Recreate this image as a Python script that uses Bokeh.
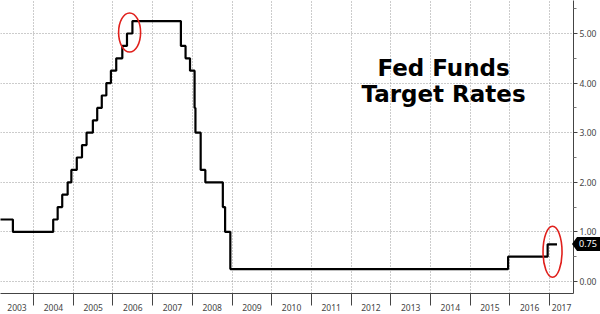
import pandas as pd
from bokeh.plotting import figure
from bokeh.layouts import column
from bokeh.models import FixedTicker, PrintfTickFormatter, Range1d, Label, Div
from bokeh.embed import file_html
from bokeh.resources import INLINE

# Fed funds target rate (upper bound), step changes
change_dates = ["2003-01-01", "2003-06-25", "2004-06-30", "2004-08-10", "2004-09-21",
                "2004-11-10", "2004-12-14", "2005-02-02", "2005-03-22", "2005-05-03",
                "2005-06-30", "2005-08-09", "2005-09-20", "2005-11-01", "2005-12-13",
                "2006-01-31", "2006-03-28", "2006-05-10", "2006-06-29", "2007-09-18",
                "2007-10-31", "2007-12-11", "2008-01-22", "2008-01-30", "2008-03-18",
                "2008-04-30", "2008-10-08", "2008-10-29", "2008-12-16", "2015-12-16",
                "2016-12-14", "2017-03-10"]
rates = [1.25, 1.00, 1.25, 1.50, 1.75, 2.00, 2.25, 2.50, 2.75, 3.00, 3.25, 3.50, 3.75,
         4.00, 4.25, 4.50, 4.75, 5.00, 5.25, 4.75, 4.50, 4.25, 3.50, 3.00, 2.25, 2.00,
         1.50, 1.00, 0.25, 0.50, 0.75, 0.75]

year_labels = ["2003", "2004", "2005", "2006", "2007", "2008", "2009", "2010",
               "2011", "2012", "2013", "2014", "2015", "2016", "2017"]
y_ticks = [0, 1, 2, 3, 4, 5]
y_minor = [0.5, 1.5, 2.5, 3.5, 4.5, 5.5]
last_value = 0.75
title_lines = ["Fed Funds", "Target Rates"]
highlight_dates = ["2006-06-03", "2017-01-28"]
highlight_values = [5.02, 0.60]

def ms(d):
    return pd.Timestamp(d).value / 1e6

x_start = ms("2003-03-03")
x_end = ms("2017-08-09")
y_start, y_end = -0.242, 5.665
W, H = 600, 314
BORDER_RIGHT, BORDER_BOTTOM = 27, 21

xs = [pd.Timestamp(d) for d in change_dates]

p = figure(width=W, height=H, x_axis_type="datetime", y_axis_location="right",
           output_backend="svg", toolbar_location=None,
           x_range=Range1d(x_start, x_end), y_range=Range1d(y_start, y_end),
           min_border_left=0, min_border_top=0, min_border_right=BORDER_RIGHT,
           min_border_bottom=BORDER_BOTTOM)
p.outline_line_color = None
p.background_fill_color = "white"
p.border_fill_color = "white"

p.step(xs, rates, mode="after", line_color="black", line_width=2.2)

# highlight ellipses
p.ellipse([pd.Timestamp(highlight_dates[0])], [highlight_values[0]], width=22, height=39,
          width_units="screen", height_units="screen",
          fill_color=None, line_color="#e0201c", line_width=1.6)
p.ellipse([pd.Timestamp(highlight_dates[1])], [highlight_values[1]], width=19, height=51,
          width_units="screen", height_units="screen",
          fill_color=None, line_color="#e0201c", line_width=1.6)

# x axis: separators at year starts, labels centered in each year span
year_starts = [ms(f"{y}-01-01") for y in range(2004, 2018)]
bounds = [x_start] + year_starts + [x_end]
label_pos = [(bounds[i] + bounds[i + 1]) / 2 for i in range(len(year_labels))]
xaxis = p.xaxis[0]
xaxis.ticker = FixedTicker(ticks=label_pos, minor_ticks=year_starts)
xaxis.major_label_overrides = {pos: lab for pos, lab in zip(label_pos, year_labels)}
xaxis.major_tick_line_color = None
xaxis.major_tick_in = 0
xaxis.major_tick_out = 0
xaxis.minor_tick_in = 0
xaxis.minor_tick_out = 12
xaxis.minor_tick_line_color = "#444444"
xaxis.axis_line_color = "#444444"
xaxis.major_label_standoff = -2
xaxis.major_label_text_font = "Noto Sans"
xaxis.major_label_text_font_size = "8.5px"
xaxis.major_label_text_color = "#444444"

yaxis = p.yaxis[0]
yaxis.ticker = FixedTicker(ticks=y_ticks, minor_ticks=y_minor)
yaxis.formatter = PrintfTickFormatter(format="%.2f")
yaxis.major_tick_in = 0
yaxis.major_tick_out = 4
yaxis.minor_tick_in = 0
yaxis.minor_tick_out = 3
yaxis.axis_line_color = "#444444"
yaxis.major_tick_line_color = "#444444"
yaxis.minor_tick_line_color = "#777777"
yaxis.major_label_standoff = 2
yaxis.major_label_text_font = "Noto Sans"
yaxis.major_label_text_font_size = "8.5px"
yaxis.major_label_text_color = "#444444"

p.xgrid.ticker = FixedTicker(ticks=year_starts)
p.ygrid.ticker = FixedTicker(ticks=y_ticks)
for g in (p.xgrid, p.ygrid):
    g.grid_line_color = "#999999"
    g.grid_line_dash = "1 2"
    g.grid_line_width = 1

# title text
title_x = ms("2014-05-01")
p.add_layout(Label(x=title_x, y=4.31, text=title_lines[0], text_align="center",
                   text_baseline="alphabetic", text_font="DejaVu Sans",
                   text_font_style="bold", text_font_size="23px", text_color="black"))
p.add_layout(Label(x=title_x, y=3.77, text=title_lines[1], text_align="center",
                   text_baseline="alphabetic", text_font="DejaVu Sans",
                   text_font_style="bold", text_font_size="23px", text_color="black"))

# last value badge, positioned over the right axis from the y scale
frame_h = H - BORDER_BOTTOM
badge_h = 14
badge_top = frame_h * (y_end - last_value) / (y_end - y_start) - badge_h / 2
badge_left = W - BORDER_RIGHT - 1
badge_html = (
    f'<div style="display:flex;align-items:center;height:{badge_h}px;margin:0;padding:0">'
    f'<div style="width:0;height:0;border-top:{badge_h//2}px solid transparent;'
    f'border-bottom:{badge_h//2}px solid transparent;border-right:5px solid black"></div>'
    f'<div style="background:black;color:white;font-family:\'Noto Sans\';font-size:9px;'
    f'line-height:{badge_h}px;height:{badge_h}px;padding:0 4px 0 2px">{last_value:.2f}</div></div>'
)
badge = Div(text=badge_html, width=W - badge_left, height=badge_h, margin=0,
            styles={"position": "absolute", "left": f"{badge_left}px",
                    "top": f"{badge_top:.1f}px", "overflow": "hidden"})

layout = column(p, badge, spacing=0)
open("out.html", "w").write(file_html(layout, INLINE))
